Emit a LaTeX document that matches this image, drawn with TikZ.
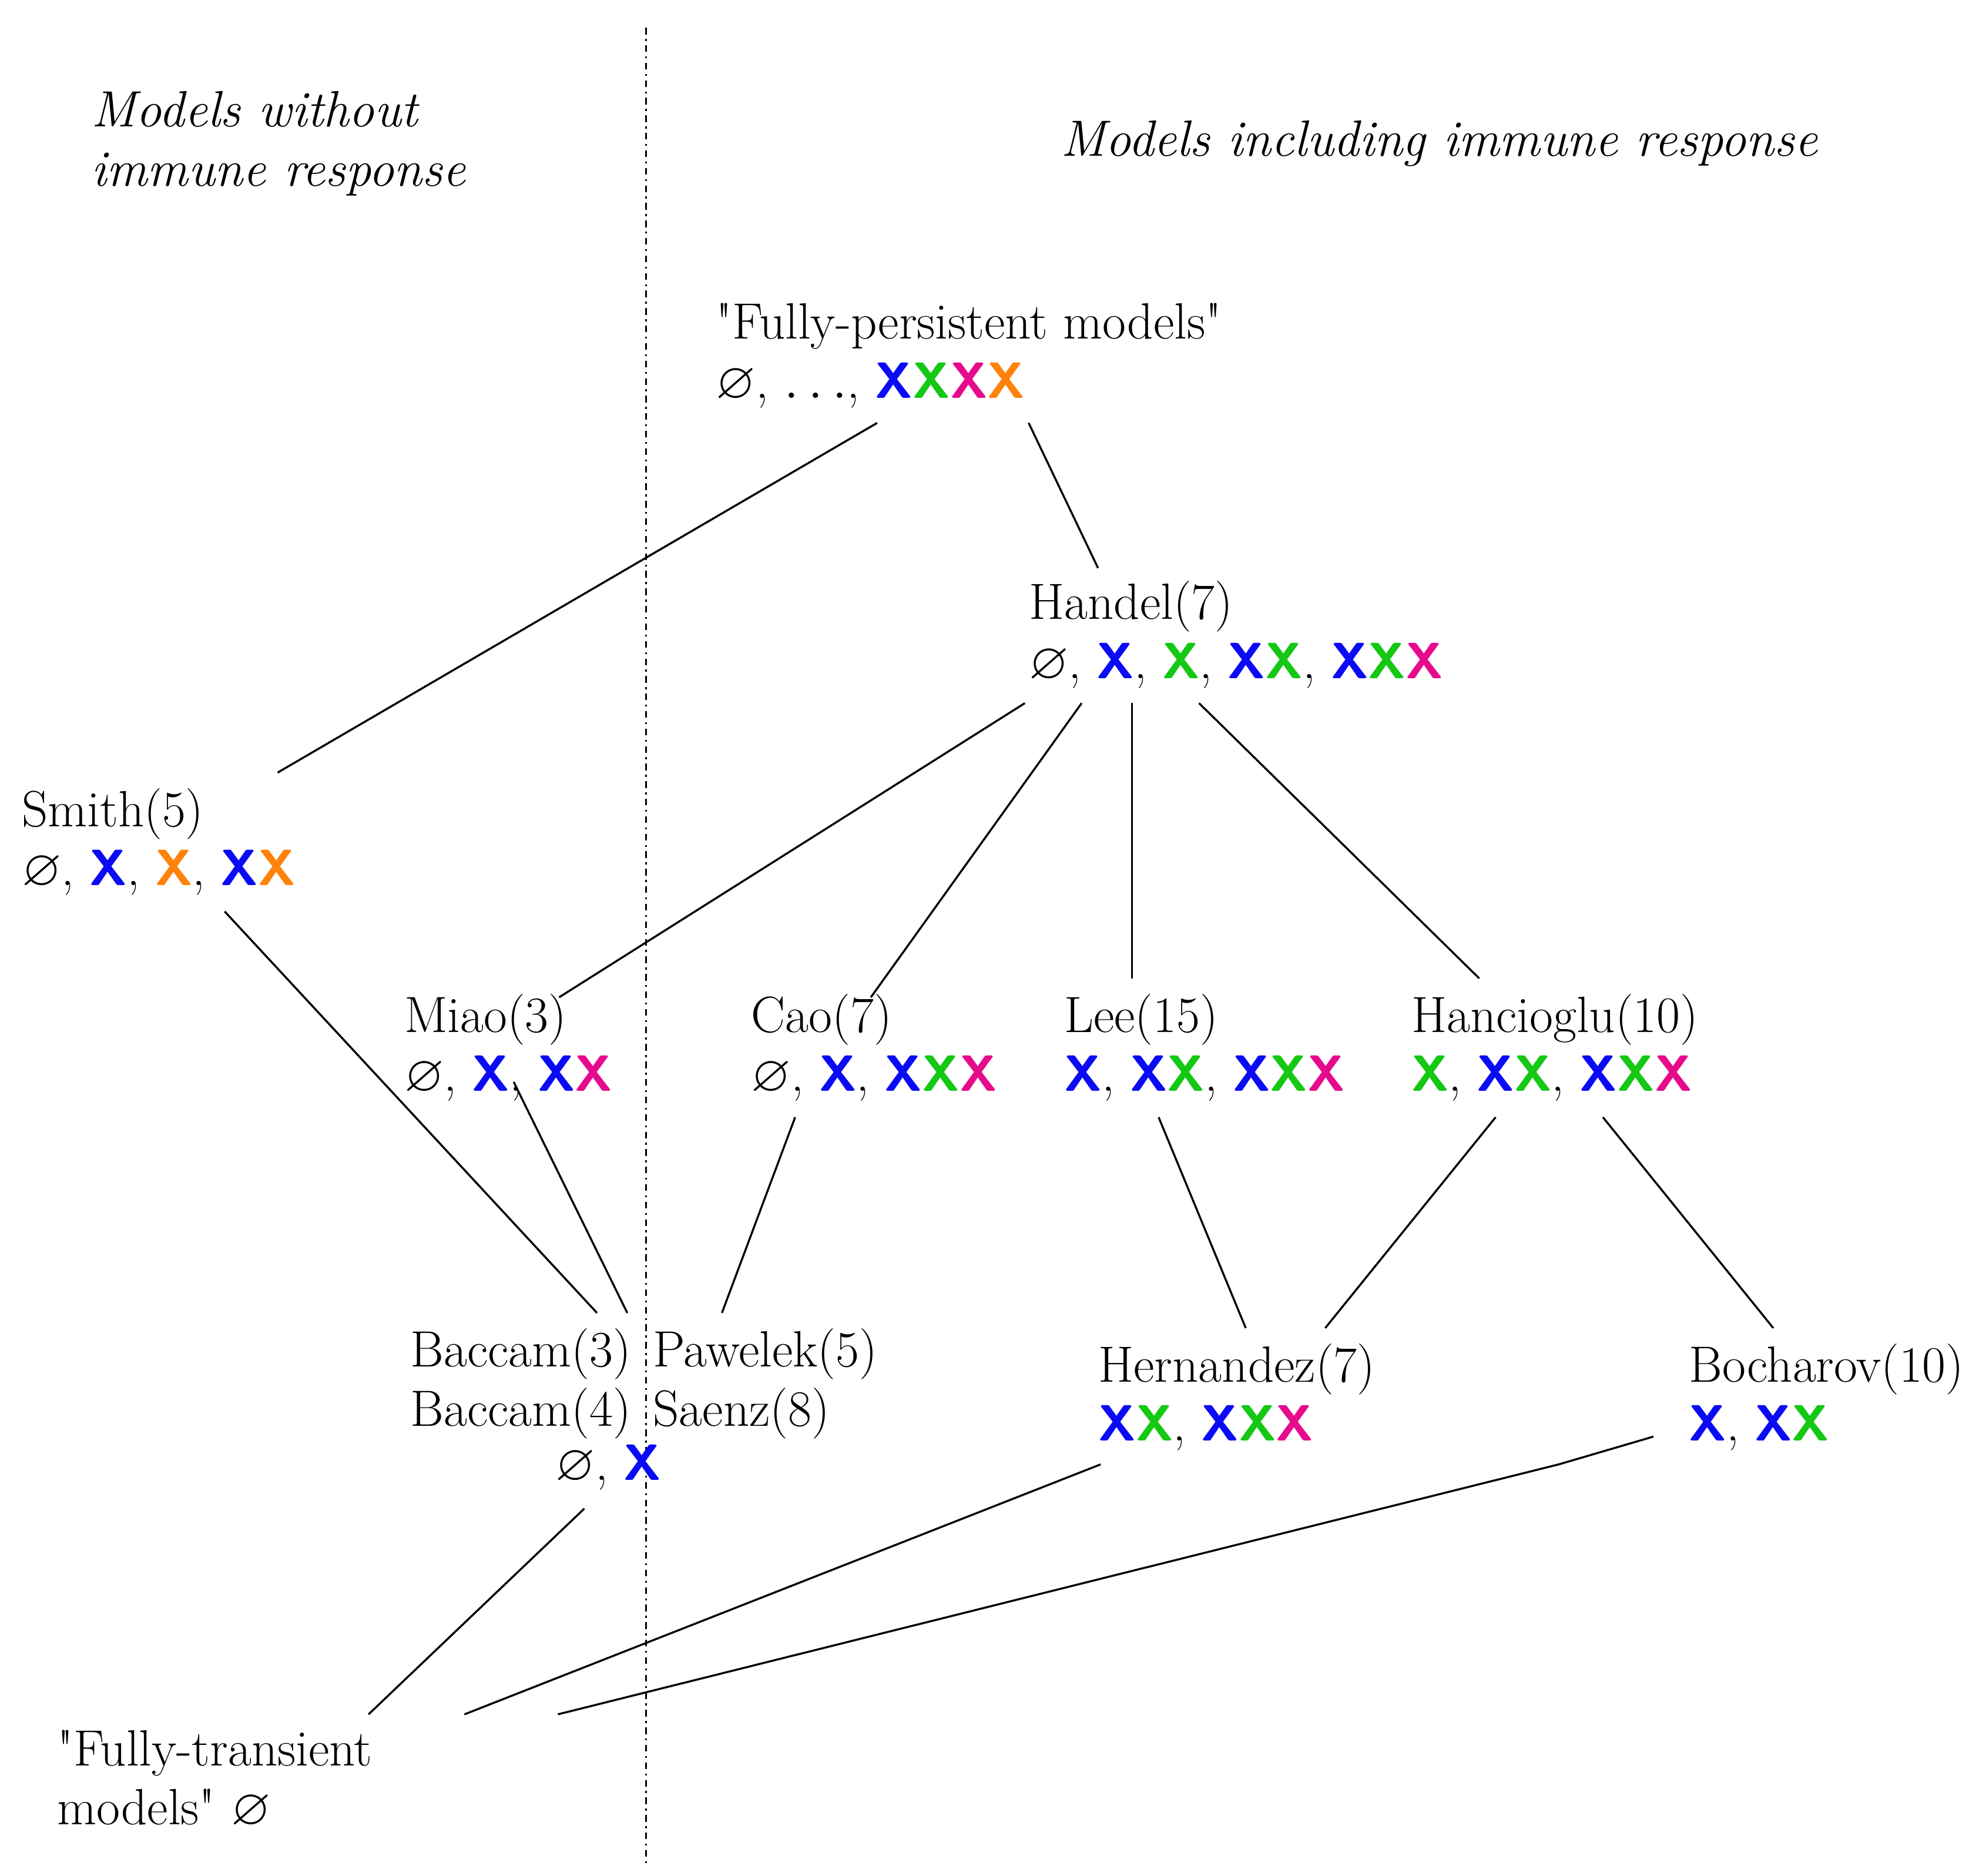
\documentclass[tikz,border=0pt]{standalone}
\usepackage{amssymb}
\definecolor{xblue}{RGB}{10,10,245}
\definecolor{xgreen}{RGB}{20,200,20}
\definecolor{xmag}{RGB}{230,10,140}
\definecolor{xor}{RGB}{255,130,10}
\newcommand{\xB}{\textcolor{xblue}{\textsf{\textbf{X}}}}
\newcommand{\xG}{\textcolor{xgreen}{\textsf{\textbf{X}}}}
\newcommand{\xM}{\textcolor{xmag}{\textsf{\textbf{X}}}}
\newcommand{\xO}{\textcolor{xor}{\textsf{\textbf{X}}}}
\newcommand{\es}{$\varnothing$}
\begin{document}
\begin{tikzpicture}[x=0.02cm,y=-0.02cm,
  lab/.style={anchor=north west,inner sep=0pt,align=left,font=\fontsize{23}{26.7}\selectfont},
  edge/.style={line width=0.9pt}]
\useasboundingbox (0,0) rectangle (1568,1486);
\draw[line width=0.9pt,dash dot] (512,22) -- (512,1478);
\node[lab,font=\fontsize{23}{26.7}\selectfont\itshape] (h1) at (72,72) {Models without\\immune response};
\node[lab,font=\fontsize{23}{26.7}\selectfont\itshape] (h2) at (840,95) {Models including immune response};
\node[lab] (fp) at (567,240) {\textquotedbl Fully-persistent models\textquotedbl\\\es, $\ldots$, \xB\xG\xM\xO};
\node[lab] (ha) at (815,460) {Handel(7)\\\es, \xB, \xG, \xB\xG, \xB\xG\xM};
\node[lab] (sm) at (17,624) {Smith(5)\\\es, \xB, \xO, \xB\xO};
\node[lab] (mi) at (320,787) {Miao(3)\\\es, \xB, \xB\xM};
\node[lab] (ca) at (595,787) {Cao(7)\\\es, \xB, \xB\xG\xM};
\node[lab] (le) at (843,787) {Lee(15)\\\xB, \xB\xG, \xB\xG\xM};
\node[lab] (hc) at (1118,787) {Hancioglu(10)\\\xG, \xB\xG, \xB\xG\xM};
\node[lab] (ba) at (325,1052) {Baccam(3) \hspace{3pt}Pawelek(5)\\Baccam(4) \hspace{3pt}Saenz(8)};
\node[lab] (ba3) at (440,1144) {\es, \xB};
\node[lab] (he) at (870,1064) {Hernandez(7)\\\xB\xG, \xB\xG\xM};
\node[lab] (bo) at (1338,1064) {Bocharov(10)\\\xB, \xB\xG};
\node[lab] (ft) at (45,1370) {\textquotedbl Fully-transient\\models\textquotedbl{} \es};
\foreach \n/\x/\y in {a1/695/335,a2/220/612,b1/815/335,b2/870/450,
 c1/812/557,c2/443/790,d1/857/557,d2/690/790,e1/897/557,e2/897/775,f1/950/557,f2/1172/775,
 g1/178/722,g2/473/1040,h1p/407/857,h2p/497/1040,i1/630/885,i2/572/1040,
 j1/918/885,j2/987/1052,k1/1185/885,k2/1050/1052,l1/1270/885,l2/1405/1052,
 m1/463/1195,m2/292/1358,n1/872/1160,n2/368/1358,o1/1310/1138,o0/1235/1160,o2/442/1358}
 \coordinate (\n) at (\x,\y);
\draw[edge] (a1)--(a2); \draw[edge] (b1)--(b2);
\draw[edge] (c1)--(c2); \draw[edge] (d1)--(d2); \draw[edge] (e1)--(e2); \draw[edge] (f1)--(f2);
\draw[edge] (g1)--(g2); \draw[edge] (h1p)--(h2p); \draw[edge] (i1)--(i2);
\draw[edge] (j1)--(j2); \draw[edge] (k1)--(k2); \draw[edge] (l1)--(l2);
\draw[edge] (m1)--(m2); \draw[edge] (n1)--(n2); \draw[edge] (o1)--(o0)--(o2);
\end{tikzpicture}
\end{document}
